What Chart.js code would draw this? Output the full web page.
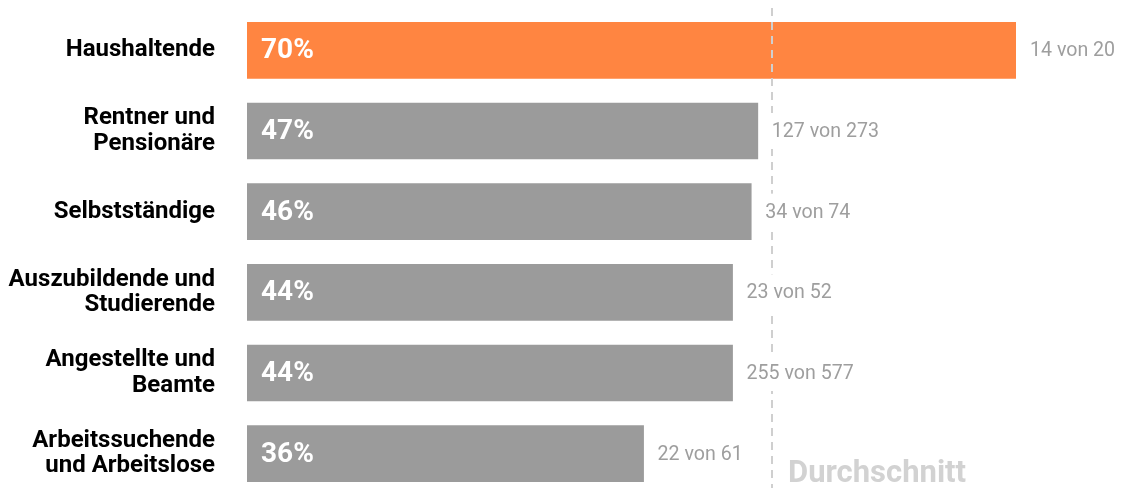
<!DOCTYPE html>
<html>
<head>
<meta charset="utf-8">
<script src="https://cdn.jsdelivr.net/npm/chart.js@4/dist/chart.umd.min.js"></script>
<style>
html,body{margin:0;padding:0;background:#fff;overflow:hidden;}
#wrap{width:1122px;height:494px;}
</style>
</head>
<body>
<div id="wrap"><canvas id="c" width="1122" height="494"></canvas></div>
<script>
const categories = [
  ["Haushaltende"],
  ["Rentner und", "Pensionäre"],
  ["Selbstständige"],
  ["Auszubildende und", "Studierende"],
  ["Angestellte und", "Beamte"],
  ["Arbeitssuchende", "und Arbeitslose"]
];
const values = [70, 46.5, 45.9, 44.2, 44.2, 36.1];
const counts = [14, 127, 34, 23, 255, 22];
const totals = [20, 273, 74, 52, 577, 61];
const averageValue = 47.8;
const averageLabel = "Durchschnitt";
const barColors = ["#FF8541", "#9B9B9B", "#9B9B9B", "#9B9B9B", "#9B9B9B", "#9B9B9B"];

const overlay = {
  id: 'overlay',
  afterDatasetsDraw(chart) {
    const ctx = chart.ctx;
    const xs = chart.scales.x;
    const meta = chart.getDatasetMeta(0);
    ctx.save();
    // value labels inside bars
    ctx.font = "bold 28px Roboto";
    ctx.fillStyle = "#ffffff";
    ctx.textAlign = "left";
    ctx.textBaseline = "middle";
    meta.data.forEach((bar, i) => {
      ctx.fillText(Math.round(values[i]) + "%", xs.getPixelForValue(0) + 14, bar.y + 1);
    });
    // average line
    const ax = Math.round(xs.getPixelForValue(averageValue));
    ctx.strokeStyle = "#cfcfcf";
    ctx.lineWidth = 2;
    ctx.setLineDash([8, 6]);
    ctx.beginPath();
    ctx.moveTo(ax, 8);
    ctx.lineTo(ax, 488);
    ctx.stroke();
    ctx.setLineDash([]);
    // count labels
    ctx.font = "19.6px Roboto";
    meta.data.forEach((bar, i) => {
      const txt = counts[i] + " von " + totals[i];
      const x0 = bar.x + 14;
      const w = ctx.measureText(txt).width;
      ctx.fillStyle = "#ffffff";
      if (x0 < ax + 2 && x0 + w > ax - 2) ctx.fillRect(x0 - 2, bar.y - 18, w + 4, 36);
      ctx.fillStyle = "#9e9e9e";
      ctx.fillText(txt, x0, bar.y + 1);
    });
    // average label
    ctx.font = "bold 31px Roboto";
    ctx.fillStyle = "#d2d2d2";
    ctx.textBaseline = "alphabetic";
    ctx.fillText(averageLabel, ax + 16, 482);
    ctx.restore();
  }
};

new Chart(document.getElementById('c'), {
  type: 'bar',
  data: {
    labels: categories,
    datasets: [{
      data: values,
      backgroundColor: barColors,
      barThickness: 56,
      borderWidth: 0
    }]
  },
  options: {
    indexAxis: 'y',
    responsive: false,
    animation: false,
    layout: { padding: { top: 10, bottom: 0, right: 106, left: 0 } },
    plugins: { legend: { display: false }, tooltip: { enabled: false } },
    scales: {
      x: { display: false, min: 0, max: 70 },
      y: {
        border: { display: false },
        grid: { display: false, drawTicks: false },
        afterFit(axis) { axis.width = 247; axis.paddingTop = 0; axis.paddingBottom = 0; },
        ticks: {
          padding: 32,
          color: "#000000",
          font: { family: "Roboto", weight: "bold", size: 24, lineHeight: 1.06 }
        }
      }
    }
  },
  plugins: [overlay]
});
</script>
</body>
</html>
